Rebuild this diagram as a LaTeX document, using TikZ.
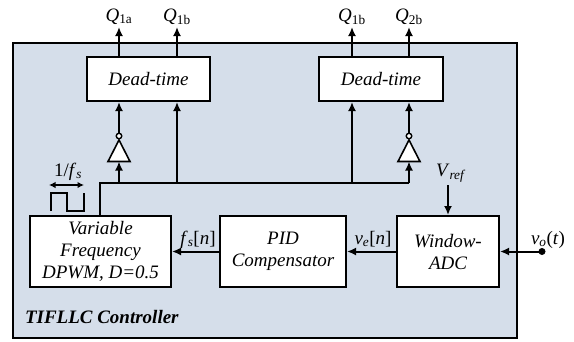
\documentclass[tikz,border=0pt]{standalone}
\usepackage{fontspec}
\setmainfont{Liberation Serif}
\usetikzlibrary{arrows.meta}
\definecolor{panel}{RGB}{213,222,234}
\newcommand{\sbs}[1]{\textsubscript{#1}}
\begin{document}
\begin{tikzpicture}[x=1pt,y=-1pt,
  font=\fontsize{19}{21}\selectfont,
  every path/.style={line width=2pt},
  blk/.style={draw=black,fill=white,line width=2pt,align=center,inner sep=0pt,font=\fontsize{19}{22}\selectfont\itshape},
  arr/.style={-{Latex[length=9pt,width=8pt]}},
  darr/.style={{Latex[length=6.5pt,width=6.5pt]}-{Latex[length=6.5pt,width=6.5pt]},line width=1.5pt},
  lbl/.style={inner sep=0pt},
  bub/.style={circle,draw,fill=white,line width=1.4pt,minimum size=5.5pt,inner sep=0pt}]
\useasboundingbox (0,0) rectangle (574,341);
% panel
\draw[fill=panel,line width=1.4pt] (13,43) rectangle (517,338);
% blocks
\node[blk,minimum width=123pt,minimum height=44pt] (dt1) at (148.5,79) {Dead-time};
\node[blk,minimum width=124pt,minimum height=44pt] (dt2) at (381,79) {Dead-time};
\node[blk,minimum width=141pt,minimum height=71pt] (pwm) at (100.5,251.5) {Variable\\Frequency\\DPWM, \textit{D}=0.5};
\node[blk,minimum width=126pt,minimum height=71pt] (pid) at (283,251.5) {PID\\Compensator};
\node[blk,minimum width=102pt,minimum height=71pt] (adc) at (448,251.5) {Window-\\ADC};
% outputs
\coordinate (q1a) at (119,27);
\coordinate (q1b) at (177,27);
\coordinate (q3b) at (352,27);
\coordinate (q2b) at (409,27);
\draw[arr] (dt1.north -| q1a) -- (q1a);
\draw[arr] (dt1.north -| q1b) -- (q1b);
\draw[arr] (dt2.north -| q3b) -- (q3b);
\draw[arr] (dt2.north -| q2b) -- (q2b);
\node[lbl,anchor=base] at (119,21) {\textit{Q}\sbs{1a}};
\node[lbl,anchor=base] at (177,21) {\textit{Q}\sbs{1b}};
\node[lbl,anchor=base] at (352,21) {\textit{Q}\sbs{1b}};
\node[lbl,anchor=base] at (409,21) {\textit{Q}\sbs{2b}};
% bus
\coordinate (busL) at (100,183);
\coordinate (busR) at (409,183);
\draw (pwm.north -| busL) -- (busL) -- (busR);
% inverters
\draw[fill=white,line width=1.6pt] (108,161.5) -- (130,161.5) -- (119,140) -- cycle;
\node[bub] (b1) at (119,136) {};
\draw[fill=white,line width=1.6pt] (398,161.5) -- (420,161.5) -- (409,140) -- cycle;
\node[bub] (b2) at (409,136) {};
\coordinate (i1) at (119,161.5);
\coordinate (i2) at (409,161.5);
\draw[arr] (119,183) -- (i1);
\draw[arr] (409,183) -- (i2);
\draw[arr] (b1.north) -- (dt1.south -| b1);
\draw[arr] (b2.north) -- (dt2.south -| b2);
\draw[arr] (177,183) -- (dt1.south -| q1b);
\draw[arr] (352,183) -- (dt2.south -| q3b);
% 1/fs
\node[lbl,anchor=base] at (68,176) {1/\textit{f}\sbs{\textit{s}}};
\draw[darr] (49,185) -- (84,185);
\draw[line width=1.6pt] (51,211) -- (51,193) -- (67,193) -- (67,211) -- (84,211) -- (84,193);
% signal flow
\draw[arr] (adc.west) -- (pid.east);
\draw[arr] (pid.west) -- (pwm.east);
\node[lbl,anchor=base] at (373,244) {\textit{v}\sbs{\textit{e}}[\textit{n}]};
\node[lbl,anchor=base] at (198,244) {\textit{f}\sbs{\textit{s}}[\textit{n}]};
\coordinate (vref) at (448,185);
\node[lbl,anchor=base] at (451,176) {\textit{V}\sbs{\textit{ref}}};
\draw[arr] (vref) -- (adc.north);
\coordinate (vo) at (542,251.5);
\draw[arr] (vo) -- (adc.east);
\fill (vo) circle (3.5pt);
\node[lbl,anchor=base] at (548,244) {\textit{v}\sbs{\textit{o}}(\textit{t})};
\node[lbl,anchor=west,font=\fontsize{19}{21}\selectfont\bfseries\itshape] at (24,317) {TIFLLC Controller};
\end{tikzpicture}
\end{document}
